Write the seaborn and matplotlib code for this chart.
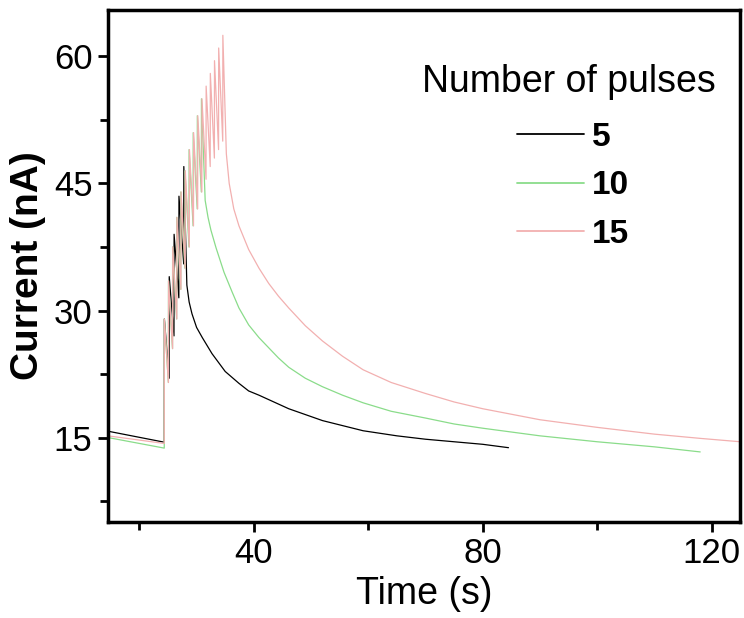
import matplotlib
matplotlib.use("Agg")
import matplotlib.pyplot as plt
import pandas as pd
import seaborn as sns

# ---- data (time in s, current in nA) ----
pulse_labels = ["5", "10", "15"]
line_colors = ["#000000", "#8adc8a", "#f2b0b0"]

time_5 = [14.5, 24.35, 24.37, 25.20, 25.22, 26.05, 26.07, 26.90, 26.92, 27.75, 27.77,
          28.30, 28.70, 29.20, 30.00, 31.00, 32.70, 35.00, 37.40, 39.10, 40.90, 43.50,
          46.10, 52.00, 59.10, 65.00, 70.00, 80.00, 84.50]
current_5 = [15.75, 14.45, 29.0, 22.0, 34.0, 27.0, 39.0, 31.5, 43.5, 35.5, 47.0,
             33.0, 31.0, 29.6, 28.0, 26.8, 24.9, 22.8, 21.4, 20.5, 20.0, 19.2,
             18.4, 17.0, 15.8, 15.2, 14.8, 14.2, 13.8]

time_10 = [14.5, 24.35, 24.37, 25.07, 25.09, 25.79, 25.81, 26.51, 26.53, 27.23, 27.25,
           27.95, 27.97, 28.67, 28.69, 29.39, 29.41, 30.11, 30.13, 30.83, 30.85,
           31.50, 32.00, 32.50, 33.40, 34.80, 36.20, 37.40, 39.10, 40.90, 42.60, 44.30,
           46.10, 49.00, 52.00, 55.50, 59.10, 64.00, 70.00, 75.00, 80.00, 90.00, 100.00,
           110.00, 118.00]
current_10 = [15.0, 13.75, 29.0, 21.5, 33.5, 25.5, 37.5, 29.0, 41.0, 32.5, 44.0,
              35.0, 46.5, 37.5, 49.0, 40.0, 51.0, 42.0, 53.0, 44.0, 55.0,
              43.0, 41.0, 39.5, 37.4, 34.5, 32.2, 30.3, 28.3, 26.8, 25.6, 24.4,
              23.3, 22.0, 21.0, 20.0, 19.1, 18.1, 17.3, 16.6, 16.1, 15.2, 14.5,
              13.9, 13.3]

time_15 = [14.5, 24.35, 24.37, 25.08, 25.10, 25.81, 25.83, 26.54, 26.56, 27.27, 27.29,
           28.00, 28.02, 28.73, 28.75, 29.46, 29.48, 30.19, 30.21, 30.92, 30.94,
           31.65, 31.67, 32.38, 32.40, 33.11, 33.13, 33.84, 33.86, 34.57, 34.59,
           35.20, 35.70, 36.50, 37.40, 39.10, 40.90, 42.60, 44.30, 46.10, 49.00,
           52.00, 55.50, 59.10, 64.00, 70.00, 75.00, 80.00, 90.00, 100.00, 110.00,
           118.00, 125.00]
current_15 = [15.2, 14.3, 29.0, 21.5, 33.5, 25.5, 37.5, 29.0, 41.0, 32.5, 44.0,
              35.0, 46.5, 37.5, 49.0, 40.0, 51.0, 42.0, 53.0, 44.0, 55.0,
              45.5, 56.5, 47.0, 58.0, 48.0, 59.5, 49.0, 61.0, 50.0, 62.5,
              48.5, 45.0, 42.0, 40.0, 37.2, 35.0, 33.2, 31.7, 30.3, 28.2,
              26.4, 24.6, 23.0, 21.5, 20.2, 19.2, 18.4, 17.1, 16.2, 15.4,
              14.9, 14.5]

x_major = [40, 80, 120]
x_minor = [20, 60, 100]
y_major = [15, 30, 45, 60]
y_minor = [7.5, 22.5, 37.5, 52.5]

# long table for seaborn
frames = []
for lab, t, c in zip(pulse_labels, [time_5, time_10, time_15],
                     [current_5, current_10, current_15]):
    frames.append(pd.DataFrame({"Time": t, "Current": c, "Pulses": lab}))
df = pd.concat(frames, ignore_index=True)

sns.set_theme(style="white")
plt.rcParams["font.family"] = ["Liberation Sans", "DejaVu Sans"]
plt.rcParams["text.color"] = "black"
plt.rcParams["axes.labelcolor"] = "black"
plt.rcParams["xtick.color"] = "black"
plt.rcParams["ytick.color"] = "black"

fig = plt.figure(figsize=(7.44, 6.18), dpi=100)
ax = fig.add_axes([0.145, 0.155, 0.85, 0.829])

sns.lineplot(data=df, x="Time", y="Current", hue="Pulses", hue_order=pulse_labels,
             palette=dict(zip(pulse_labels, line_colors)), sort=False,
             estimator=None, linewidth=0.9, ax=ax)

ax.set_xlim(14.5, 125)
ax.set_ylim(5, 65.5)
ax.set_xticks(x_major)
ax.set_xticks(x_minor, minor=True)
ax.set_yticks(y_major)
ax.set_yticks(y_minor, minor=True)
ax.tick_params(which="both", direction="out", bottom=True, left=True,
               width=2, color="black")
ax.tick_params(which="major", length=7, labelsize=25, pad=4)
ax.tick_params(which="minor", length=6)

for s in ax.spines.values():
    s.set_linewidth(2.5)
    s.set_color("black")

ax.set_xlabel("Time (s)", fontsize=27, labelpad=4)
ax.set_ylabel("Current (nA)", fontsize=28, fontweight="bold", labelpad=6)

# legend title as its own text, entries placed below it (as in the figure)
ax.text(0.962, 0.895, "Number of pulses", transform=ax.transAxes,
        ha="right", va="top", fontsize=27)
handles, labels = ax.get_legend_handles_labels()
leg = ax.legend(handles, labels, frameon=False,
                loc="upper left", bbox_to_anchor=(0.621, 0.814), borderpad=0,
                prop={"weight": "bold", "size": 24},
                handlelength=2.0, handletextpad=0.25, labelspacing=0.52)
for h in leg.legend_handles:
    h.set_linewidth(1.3)

fig.savefig("out.png", dpi=100)
